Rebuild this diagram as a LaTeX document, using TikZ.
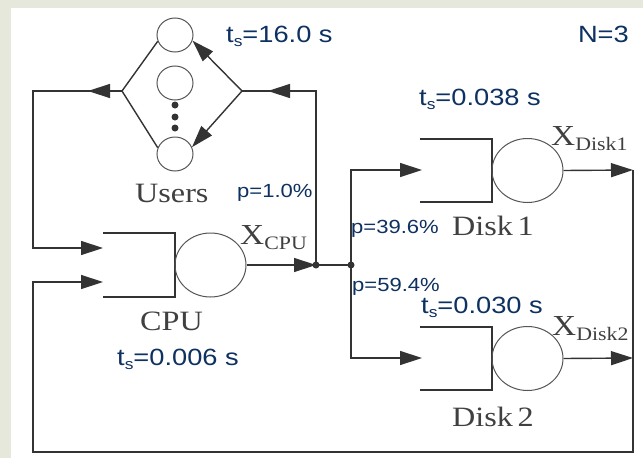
\documentclass[tikz,border=0pt]{standalone}
\usepackage{fontspec}
\setmainfont{Liberation Serif}
\newfontfamily\bsans[FakeStretch=1.16]{Liberation Sans}
\newfontfamily\gserif[FakeStretch=1.15]{Liberation Serif}
\usetikzlibrary{arrows.meta,shapes.geometric}
\definecolor{bgtex}{HTML}{E6E8DC}
\definecolor{navy}{HTML}{0D3161}
\definecolor{lineC}{HTML}{333333}
\definecolor{circC}{HTML}{555555}
\definecolor{greyT}{HTML}{404040}
\newcommand\tsub{t\raisebox{-4pt}{\fontsize{15}{15}\selectfont s}}
\newcommand\xsub[1]{X\raisebox{-5pt}{\fontsize{19}{19}\selectfont #1}}
\begin{document}
\begin{tikzpicture}[x=1pt,y=-1pt,
  ln/.style={draw=lineC, line width=1.4pt},
  arr/.style={ln, -{Triangle[length=22pt,width=14pt]}},
  srv/.style={ellipse, draw=circC, line width=1pt, inner sep=0pt, minimum width=71pt, minimum height=64pt},
  usr/.style={ellipse, draw=circC, line width=1pt, inner sep=0pt, minimum width=36pt, minimum height=34pt},
  dotn/.style={circle, fill=lineC, inner sep=0pt, minimum size=7pt},
  tsl/.style={text=navy, font=\bsans\fontsize{23.5}{26}\selectfont, inner sep=0pt, anchor=base west},
  pl/.style={text=navy, font=\bsans\fontsize{19}{21}\selectfont, inner sep=0pt, anchor=base west},
  lbl/.style={text=greyT, font=\gserif\fontsize{28}{30}\selectfont, inner sep=0pt, anchor=base west},
  xl/.style={text=greyT, font=\gserif\fontsize{29}{30}\selectfont, inner sep=0pt, anchor=base west}
]
\useasboundingbox (0,0) rectangle (643,458);
\fill[bgtex] (0,0) rectangle (643,458);
\fill[white] (11,8) rectangle (643,458);

% Users
\node[usr] (u1) at (175,35) {};
\node[usr] (u2) at (175,83) {};
\node[usr] (u3) at (175,154) {};
\node[dotn] (d1) at (175,105) {};
\node[dotn] (d2) at (175,117) {};
\node[dotn] (d3) at (175,128) {};
\coordinate (uL) at (122,91);
\coordinate (uR) at (242,91);
\draw[ln] (u1.200) -- (uL) -- (u3.160);
\draw[arr] (uR) -- (u1.-18);
\draw[arr] (uR) -- (u3.22);

% CPU
\coordinate (qc1) at (103,233);
\coordinate (qc2) at (175,233);
\coordinate (qc3) at (175,297);
\coordinate (qc4) at (103,297);
\draw[ln] (qc1) -- (qc2) -- (qc3) -- (qc4);
\node[srv] (cpu) at (210.5,265) {};
\coordinate (cpuA) at (103,248);
\coordinate (cpuB) at (103,282);

% Disk 1
\coordinate (k1) at (420,139);
\coordinate (k2) at (492,139);
\coordinate (k3) at (492,202);
\coordinate (k4) at (420,202);
\draw[ln] (k1) -- (k2) -- (k3) -- (k4);
\node[srv] (disk1) at (527.5,170.5) {};
\coordinate (d1A) at (422,170);

% Disk 2
\coordinate (m1) at (420,327);
\coordinate (m2) at (492,327);
\coordinate (m3) at (492,390);
\coordinate (m4) at (420,390);
\draw[ln] (m1) -- (m2) -- (m3) -- (m4);
\node[srv] (disk2) at (527.5,358.5) {};
\coordinate (d2A) at (422,358);

% routing
\coordinate (c1) at (33,91);
\coordinate (c2) at (33,248);
\coordinate (c3) at (33,282);
\coordinate (c4) at (33,452);
\coordinate (ma) at (88,91);
\coordinate (mb) at (268,91);
\coordinate (J1) at (316,265);
\coordinate (J2) at (351,265);
\coordinate (r1) at (316,91);
\coordinate (b1) at (351,170);
\coordinate (b2) at (351,358);
\coordinate (o1) at (633,170);
\coordinate (o2) at (633,358);
\coordinate (o3) at (633,452);

\draw[arr] (uL) -- (c1) -- (c2) -- (cpuA);
\draw[arr] (uL) -- (ma);
\draw[ln] (J1) -- (r1) -- (uR);
\draw[arr] (r1) -- (mb);
\draw[arr] (cpu.east) -- (J1);
\draw[ln] (J1) -- (J2);
\draw[arr] (J2) -- (b1) -- (d1A);
\draw[arr] (J2) -- (b2) -- (d2A);
\draw[arr] (disk1.east) -- (o1);
\draw[arr] (disk2.east) -- (o2);
\draw[arr] (o1) -- (o3) -- (c4) -- (c3) -- (cpuB);
\node[dotn] (j1dot) at (J1) {};
\node[dotn] (j2dot) at (J2) {};

% labels
\node[tsl] (tusers) at (226,42) {\tsub=16.0 s};
\node[tsl, anchor=base east] (nn) at (629,42) {N=3};
\node[tsl] (td1) at (419,105) {\tsub=0.038 s};
\node[tsl] (td2) at (421,313) {\tsub=0.030 s};
\node[tsl] (tcpu) at (117,365) {\tsub=0.006 s};
\node[pl] (p1) at (237,197) {p=1.0\%};
\node[pl] (p39) at (351,233) {p=39.6\%};
\node[pl] (p59) at (352,291) {p=59.4\%};
\node[lbl] (lusers) at (135,202) {Users};
\node[lbl] (lcpu) at (140,330) {CPU};
\node[lbl] (ldisk1) at (452,235) {Disk\,1};
\node[lbl] (ldisk2) at (452,426) {Disk\,2};
\node[xl] (xcpu) at (240,244) {\xsub{CPU}};
\node[xl] (xd1) at (551,145) {\xsub{Disk1}};
\node[xl] (xd2) at (552,335) {\xsub{Disk2}};
\end{tikzpicture}
\end{document}
